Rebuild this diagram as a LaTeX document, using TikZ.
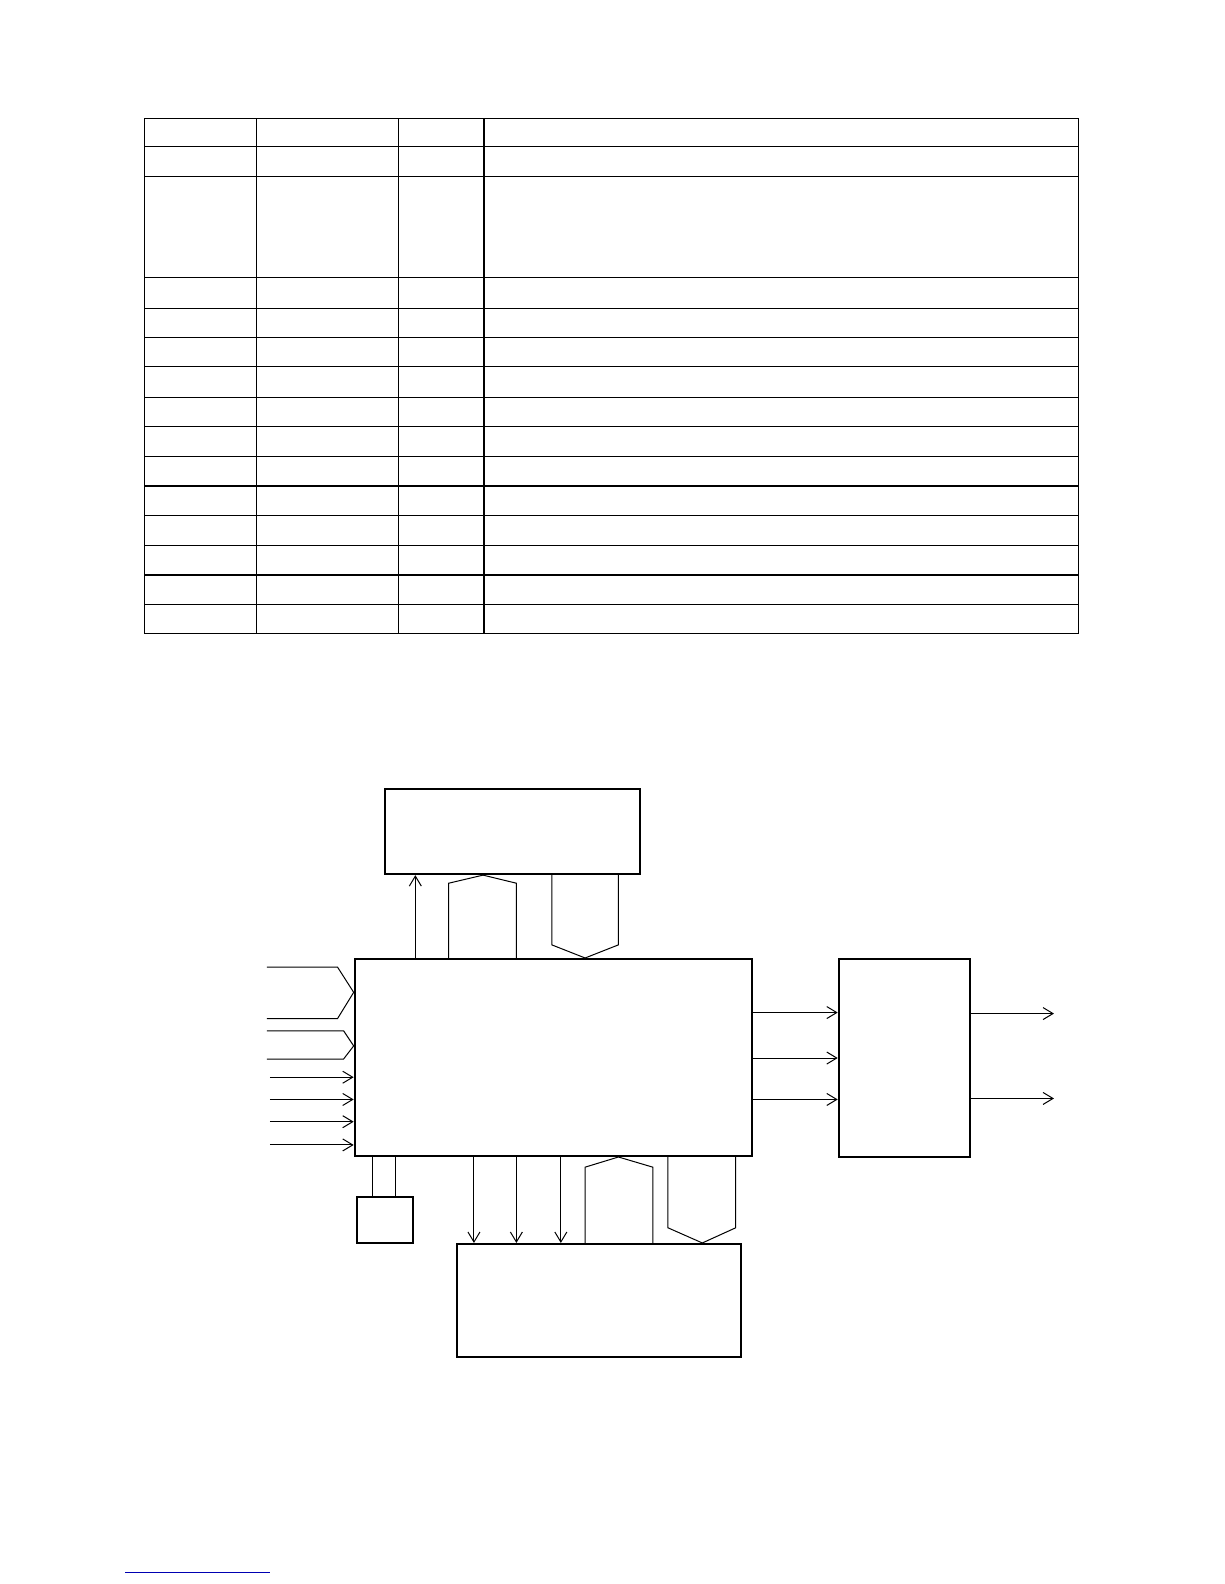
\documentclass[tikz,border=0pt]{standalone}
\usetikzlibrary{arrows.meta}
\tikzset{
  block/.style={draw, line width=2bp, fill=white, rectangle, inner sep=0pt, anchor=north west},
  wire/.style={line width=1bp},
  arr/.style={wire, -{Straight Barb[length=10bp,width=12bp,line width=1bp]}},
  tablerule/.style={line width=1.2bp}
}
\begin{document}
\begin{tikzpicture}[x=1.0105bp,y=-1.0105bp]
    \useasboundingbox (0,0) rectangle (1211.3,1567.5);

    % table
    \foreach \y in {117,145,175,275,305,334,363,393,422,452,481,510,540,569,598,627}
        \draw[tablerule] (143,\y) -- (1067,\y);
    \foreach \x in {143,254,394,479,1067}
        \draw[tablerule] (\x,117) -- (\x,627);

    % blocks
    \node [block, minimum width=254.6bp, minimum height=84.9bp] (disp) at (380,780) {};
    \node [block, minimum width=397.1bp, minimum height=197bp] (mcu) at (350,948) {};
    \node [block, minimum width=131.4bp, minimum height=198.1bp] (drv) at (829,948) {};
    \node [block, minimum width=284bp, minimum height=113.2bp] (mem) at (451,1230) {};
    \node [block, minimum width=56.6bp, minimum height=45.5bp] (osc) at (352,1184) {};

    % top side
    \draw [arr] (411,0 |- mcu.north) -- (411,0 |- disp.south);
    \draw [wire] (444,0 |- mcu.north) -- (444,874) -- (478,0 |- disp.south)
        -- (511,874) -- (511,0 |- mcu.north);
    \draw [wire] (546,0 |- disp.south) -- (546,935) -- (579,0 |- mcu.north)
        -- (612,935) -- (612,0 |- disp.south);

    % left inputs
    \coordinate (busa1) at (264,957);
    \coordinate (busa2) at (264,1008);
    \coordinate (busb1) at (264,1020);
    \coordinate (busb2) at (264,1048);
    \draw [wire] (busa1) -- (334,957) -- (mcu.west |- 0,982) -- (334,1008) -- (busa2);
    \draw [wire] (busb1) -- (340,1020) -- (mcu.west |- 0,1035) -- (340,1048) -- (busb2);
    \foreach \y in {1066,1088,1110,1133}
        \draw [arr] (267,\y) -- (mcu.west |- 0,\y);

    % right side
    \foreach \y in {1002,1047,1088}
        \draw [arr] (mcu.east |- 0,\y) -- (drv.west |- 0,\y);
    \coordinate (outa) at (1043,1003);
    \coordinate (outb) at (1043,1087);
    \draw [arr] (drv.east |- outa) -- (outa);
    \draw [arr] (drv.east |- outb) -- (outb);

    % bottom side
    \foreach \x in {369,391}
        \draw [wire] (\x,0 |- mcu.south) -- (\x,0 |- osc.north);
    \foreach \x in {469,511,555}
        \draw [arr] (\x,0 |- mcu.south) -- (\x,0 |- mem.north);
    \draw [wire] (579,0 |- mem.north) -- (579,1155) -- (612,0 |- mcu.south)
        -- (646,1155) -- (646,0 |- mem.north);
    \draw [wire] (661,0 |- mcu.south) -- (661,1215) -- (695,0 |- mem.north)
        -- (728,1215) -- (728,0 |- mcu.south);

    % footnote rule
    \draw [blue!70!black, line width=1.5bp] (124,1556) -- (267,1556);
\end{tikzpicture}
\end{document}
